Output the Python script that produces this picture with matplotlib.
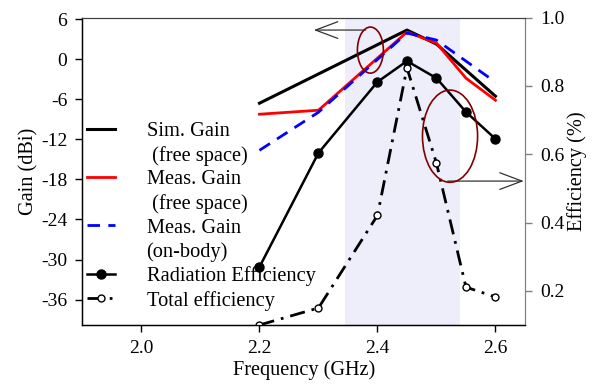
#!/usr/bin/env python3
#
# plot.py - gain / efficiency vs frequency (dual axis)
#

import matplotlib
matplotlib.use('Agg')
import matplotlib.pyplot as plt
from matplotlib.lines import Line2D
from matplotlib.patches import Ellipse

plt.rcParams['font.family'] = ['Liberation Serif', 'DejaVu Serif']
plt.rcParams['font.size'] = 14
plt.rcParams['axes.unicode_minus'] = False

#%%============================================================================
# Data
#==============================================================================
f_sim = [2.2, 2.45, 2.5, 2.6]
gain_sim = [-6.6, 4.35, 2.25, -5.55]

f_meas = [2.2, 2.3, 2.45, 2.5, 2.55, 2.6]
gain_meas = [-8.25, -7.65, 4.05, 2.4, -2.85, -6.15]

f_body = [2.2, 2.3, 2.45, 2.5, 2.6]
gain_body = [-13.65, -7.95, 3.9, 2.85, -3.45]

f_eff = [2.2, 2.3, 2.4, 2.45, 2.5, 2.55, 2.6]
rad_eff = [0.270, 0.604, 0.812, 0.873, 0.823, 0.724, 0.645]
tot_eff = [0.100, 0.150, 0.421, 0.853, 0.574, 0.211, 0.182]

band = (2.345, 2.54)

gain_ticks = [6, 0, -6, -12, -18, -24, -30, -36]
eff_ticks = [0.2, 0.4, 0.6, 0.8, 1.0]
freq_ticks = [2.0, 2.2, 2.4, 2.6]

#%%============================================================================
# Plotting
#==============================================================================
fig = plt.figure(figsize=(5.96, 3.89), dpi=100)
ax = fig.add_axes([0.1384, 0.1645, 0.7424, 0.790])
ax2 = ax.twinx()

ax.axvspan(band[0], band[1], color='#eeeefb', lw=0, zorder=0)

ax.plot(f_sim, gain_sim, color='black', lw=2.2)
ax.plot(f_meas, gain_meas, color='red', lw=2.0)
ax.plot(f_body, gain_body, color='blue', lw=2.0, dashes=(4.5, 3))

ax2.plot(f_eff, rad_eff, color='black', lw=1.8, marker='o', ms=6.5)
l_tot, = ax2.plot(f_eff, tot_eff, color='black', lw=2.0, marker='o', ms=5,
                  mfc='white', mec='black', mew=1.0, dashes=(5.5, 2.5, 1, 2.5))

# annotation ellipses + arrows
ax.add_patch(Ellipse((2.388, 1.35), 0.044, 6.9, fill=False,
                     ec='#800000', lw=1.2, zorder=5))
ax.annotate('', xy=(2.292, 4.35), xytext=(2.38, 4.35),
            arrowprops=dict(arrowstyle='->,head_length=1.6,head_width=0.6',
                            color='#333333', lw=0.9, shrinkA=0, shrinkB=0,
                            mutation_scale=10))
ax2.add_patch(Ellipse((2.523, 0.653), 0.0934, 0.27, fill=False,
                      ec='#800000', lw=1.2, zorder=5))
ax2.annotate('', xy=(2.648, 0.5215), xytext=(2.519, 0.5215),
             arrowprops=dict(arrowstyle='->,head_length=1.6,head_width=0.6',
                             color='#333333', lw=0.9, shrinkA=0, shrinkB=0,
                             mutation_scale=10))

ax.set_xlim(1.9, 2.65)
ax.set_ylim(-39.8, 6.2)
ax2.set_ylim(0.1, 1.0)

ax.set_xticks(freq_ticks)
ax.set_xticklabels(['%.1f' % v for v in freq_ticks])
ax.set_yticks(gain_ticks)
ax.set_yticklabels([str(v) for v in gain_ticks])
ax2.set_yticks(eff_ticks)
ax2.set_yticklabels(['%.1f' % v for v in eff_ticks])

ax.tick_params(direction='out', length=5, width=1, pad=6)
ax2.tick_params(direction='out', length=5, width=1, pad=6, color='#808080')

for s in ['left', 'bottom']:
    ax.spines[s].set_linewidth(1.0)
ax.spines['top'].set_color('#404040')
ax2.spines['top'].set_color('#404040')
ax2.spines['right'].set_color('#808080')
ax.spines['right'].set_color('#808080')

ax.set_xlabel('Frequency (GHz)', labelpad=2, fontsize=14.6)
ax.set_ylabel('Gain (dBi)', labelpad=2, fontsize=14.6)
ax2.set_ylabel('Efficiency (%)', labelpad=2, fontsize=14.6)

# legend: two-line labels are split into rows with blank handles
blank = Line2D([], [], color='none')
handles = [Line2D([], [], color='black', lw=2.2), blank,
           Line2D([], [], color='red', lw=2.0), blank,
           Line2D([], [], color='blue', lw=2.0, dashes=(4.5, 3)), blank,
           Line2D([], [], color='black', lw=1.8, marker='o', ms=6.5),
           l_tot]
labels = ['Sim. Gain', ' (free space)', 'Meas. Gain', ' (free space)',
          'Meas. Gain', '(on-body)', 'Radiation Efficiency', 'Total efficiency']
ax2.legend(handles, labels, loc='center left', bbox_to_anchor=(0.0102, 0.354),
           frameon=False, borderpad=0, borderaxespad=0, labelspacing=0.22,
           handlelength=1.37, handletextpad=1.55, numpoints=1, fontsize=14.7)

fig.savefig('out.png', dpi=100)
